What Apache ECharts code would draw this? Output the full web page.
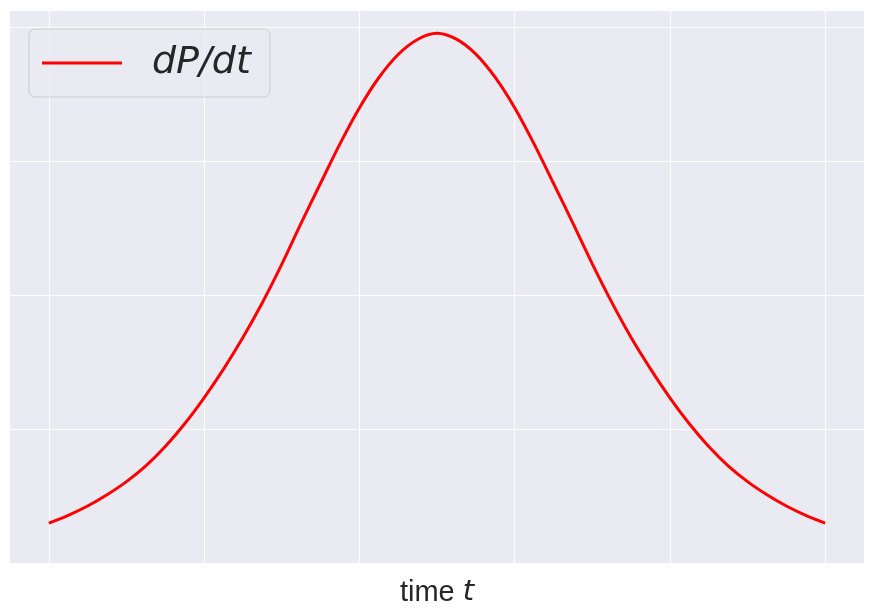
<!DOCTYPE html>
<html>
<head>
<meta charset="utf-8">
<script src="https://cdn.jsdelivr.net/npm/echarts@6/dist/echarts.min.js"></script>
<style>
  html, body { margin: 0; padding: 0; background: #fff; }
  #chart { width: 875px; height: 610px; }
</style>
</head>
<body>
<div id="chart"></div>
<script>
// time t, every quarter step
const timeValues = [0, 0.25, 0.5, 0.75, 1, 1.25, 1.5, 1.75, 2, 2.25, 2.5, 2.75, 3, 3.25, 3.5, 3.75, 4, 4.25, 4.5, 4.75,
  5, 5.25, 5.5, 5.75, 6, 6.25, 6.5, 6.75, 7, 7.25, 7.5, 7.75, 8, 8.25, 8.5, 8.75, 9, 9.25, 9.5, 9.75, 10]
// dP/dt
const rateValues = [0.0149, 0.0178, 0.0213, 0.0255, 0.0304, 0.0363, 0.0435, 0.0520, 0.0617, 0.0724, 0.0842,
  0.0972, 0.1115, 0.1269, 0.1418, 0.1565, 0.1699, 0.1812, 0.1899, 0.1955, 0.1978,
  0.1956, 0.1900, 0.1813, 0.1700, 0.1565, 0.1418, 0.1269, 0.1117, 0.0974, 0.0842,
  0.0725, 0.0617, 0.0520, 0.0435, 0.0363, 0.0304, 0.0255, 0.0213, 0.0178, 0.0149]
const xGridTicks = [0, 2, 4, 6, 8, 10]

const chart = echarts.init(document.getElementById('chart'))

const gridColor = '#ffffff'

chart.setOption({
  animation: false,
  grid: {
    left: 10, right: 11, top: 10, bottom: 47,
    outerBoundsMode: 'none',
    show: true,
    backgroundColor: '#EAEAF2',
    borderWidth: 0
  },
  legend: {
    left: 29,
    top: 29,
    padding: [13, 19, 13, 13],
    backgroundColor: 'rgba(234,234,242,0.8)',
    borderColor: '#cccccc',
    borderWidth: 1,
    borderRadius: 6,
    itemWidth: 80,
    itemHeight: 14,
    textStyle: {
      fontFamily: 'DejaVu Sans',
      fontStyle: 'italic',
      fontSize: 38,
      color: '#262626',
      padding: [0, 0, 0, 25],
      lineHeight: 42
    },
    data: [{ name: 'dP/dt', icon: 'path://M0,0L80,0L80,3L0,3Z' }]
  },
  xAxis: {
    type: 'value',
    min: -0.5,
    max: 10.5,
    name: 'time {i|t}',
    nameLocation: 'middle',
    nameGap: 15,
    nameTextStyle: {
      fontFamily: 'Liberation Sans',
      fontSize: 29,
      color: '#262626',
      rich: {
        i: { fontFamily: 'DejaVu Sans', fontStyle: 'italic', fontSize: 29, color: '#262626' }
      }
    },
    axisLine: { show: false },
    axisTick: { show: false, customValues: xGridTicks },
    axisLabel: { show: false, customValues: xGridTicks },
    splitLine: { show: true, lineStyle: { color: gridColor, width: 1 } }
  },
  yAxis: {
    type: 'value',
    min: 0,
    max: 0.2065,
    interval: 0.05,
    axisLine: { show: false },
    axisTick: { show: false },
    axisLabel: { show: false },
    splitLine: { show: true, lineStyle: { color: gridColor, width: 1 } }
  },
  series: [{
    name: 'dP/dt',
    type: 'line',
    data: timeValues.map((t, i) => [t, rateValues[i]]),
    smooth: 0.3,
    symbol: 'none',
    lineStyle: { color: '#ff0000', width: 3 },
    itemStyle: { color: '#ff0000' }
  }]
})
</script>
</body>
</html>
